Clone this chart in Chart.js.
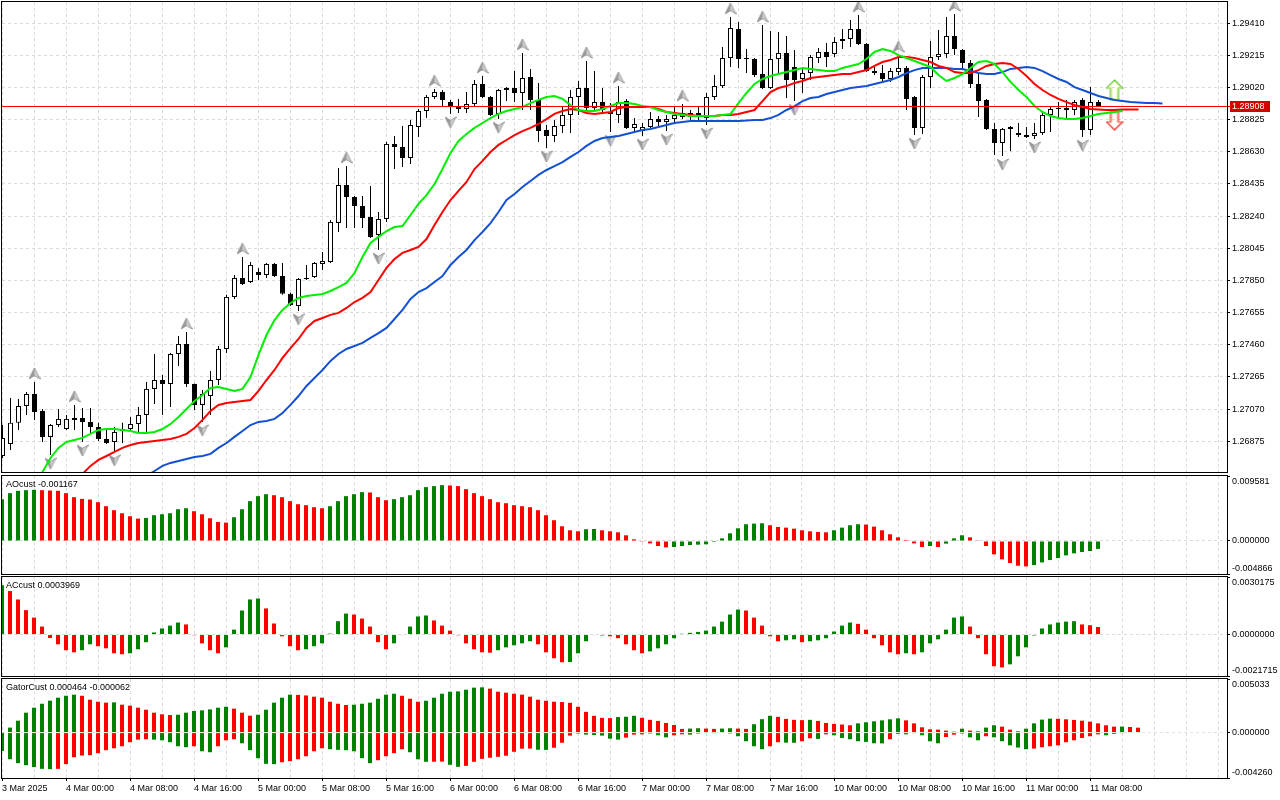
<!DOCTYPE html>
<html>
<head>
<meta charset="utf-8">
<title>H1 chart with Alligator, AO, AC, Gator</title>
<script src="https://cdn.jsdelivr.net/npm/chart.js@4.4.1/dist/chart.umd.min.js"></script>
<style>
    html, body { margin: 0; padding: 0; background: #ffffff; }
    #chartWrap { position: relative; width: 1280px; height: 800px; overflow: hidden; background: #ffffff; }
    .pane { position: absolute; left: 0; width: 1280px; }
</style>
</head>
<body>
<div id="chartWrap">
    <div class="pane" style="top:0;height:474px"><canvas id="mainChart" width="1280" height="474"></canvas></div>
    <div class="pane" style="top:475px;height:100px"><canvas id="aoChart" width="1280" height="100"></canvas></div>
    <div class="pane" style="top:576px;height:101px"><canvas id="acChart" width="1280" height="101"></canvas></div>
    <div class="pane" style="top:678px;height:122px"><canvas id="gatorChart" width="1280" height="122"></canvas></div>
</div>
<script>
// time axis: one label every 8 hourly bars, grid every 4 bars
const xLabels = ['3 Mar 2025', '4 Mar 00:00', '4 Mar 08:00', '4 Mar 16:00', '5 Mar 00:00', '5 Mar 08:00',
    '5 Mar 16:00', '6 Mar 00:00', '6 Mar 08:00', '6 Mar 16:00', '7 Mar 00:00', '7 Mar 08:00', '7 Mar 16:00',
    '10 Mar 00:00', '10 Mar 08:00', '10 Mar 16:00', '11 Mar 00:00', '11 Mar 08:00'];
const labelStep = 8;
const gridStep = 4;

const mainTicks = [1.26875, 1.27070, 1.27265, 1.27460, 1.27655, 1.27850, 1.28045, 1.28240,
    1.28435, 1.28630, 1.28825, 1.29020, 1.29215, 1.29410];
const priceMin = 1.26688;
const priceMax = 1.29539;
const lastPrice = 1.28908;

const opens = [
    1.26785, 1.26858, 1.26986, 1.27089, 1.27161, 1.27058, 1.26901, 1.26973, 1.26949, 1.27016,
    1.27016, 1.26992, 1.26961, 1.26888, 1.26870, 1.26937, 1.26949, 1.26979, 1.27034, 1.27192,
    1.27246, 1.27222, 1.27404, 1.27465, 1.27222, 1.27095, 1.27149, 1.27246, 1.27434, 1.27750,
    1.27865, 1.27841, 1.27901, 1.27883, 1.27950, 1.27877, 1.27769, 1.27695, 1.27859, 1.27871,
    1.27950, 1.27962, 1.28199, 1.28429, 1.28356, 1.28302, 1.28235, 1.28126, 1.28223, 1.28678,
    1.28659, 1.28593, 1.28781, 1.28878, 1.28963, 1.28993, 1.28932, 1.28902, 1.28890, 1.28920,
    1.29042, 1.28963, 1.28860, 1.29005, 1.29017, 1.28987, 1.29084, 1.28945, 1.28763, 1.28726,
    1.28787, 1.28854, 1.28963, 1.29017, 1.28896, 1.28932, 1.28872, 1.28854, 1.28938, 1.28775,
    1.28756, 1.28781, 1.28829, 1.28811, 1.28829, 1.28841, 1.28866, 1.28854, 1.28835, 1.28963,
    1.29029, 1.29199, 1.29375, 1.29199, 1.29193, 1.29102, 1.29017, 1.29193, 1.29230, 1.29145,
    1.29072, 1.29108, 1.29199, 1.29236, 1.29224, 1.29315, 1.29315, 1.29375, 1.29284, 1.29120,
    1.29108, 1.29072, 1.29114, 1.29139, 1.28963, 1.28775, 1.29084, 1.29205, 1.29224, 1.29333,
    1.29248, 1.29169, 1.29042, 1.28945, 1.28769, 1.28684, 1.28769, 1.28732, 1.28732, 1.28726,
    1.28744, 1.28854, 1.28890, 1.28884, 1.28884, 1.28945, 1.28763, 1.28932
];
const highs = [
    1.26973, 1.27137, 1.27131, 1.27174, 1.27234, 1.27070, 1.26979, 1.27070, 1.27034, 1.27095,
    1.27076, 1.27076, 1.26986, 1.26943, 1.26961, 1.26986, 1.27022, 1.27083, 1.27234, 1.27404,
    1.27277, 1.27410, 1.27513, 1.27537, 1.27225, 1.27186, 1.27301, 1.27453, 1.27763, 1.27883,
    1.27992, 1.27962, 1.27926, 1.27956, 1.27956, 1.27956, 1.27775, 1.27865, 1.27944, 1.27962,
    1.28023, 1.28217, 1.28532, 1.28544, 1.28362, 1.28362, 1.28423, 1.28265, 1.28690, 1.28726,
    1.28787, 1.28823, 1.28890, 1.28975, 1.29011, 1.29005, 1.28945, 1.28951, 1.28993, 1.29066,
    1.29090, 1.28969, 1.29011, 1.29023, 1.29120, 1.29230, 1.29133, 1.29048, 1.28793, 1.28823,
    1.28902, 1.29005, 1.29060, 1.29181, 1.29120, 1.29017, 1.28926, 1.29029, 1.28951, 1.28835,
    1.28805, 1.28872, 1.28847, 1.28854, 1.28908, 1.28920, 1.28884, 1.28902, 1.28987, 1.29096,
    1.29266, 1.29448, 1.29418, 1.29254, 1.29199, 1.29399, 1.29363, 1.29357, 1.29333, 1.29248,
    1.29145, 1.29217, 1.29260, 1.29290, 1.29327, 1.29375, 1.29430, 1.29460, 1.29290, 1.29157,
    1.29157, 1.29139, 1.29217, 1.29151, 1.28969, 1.29096, 1.29302, 1.29369, 1.29448, 1.29466,
    1.29254, 1.29187, 1.29108, 1.28951, 1.28805, 1.28775, 1.28787, 1.28805, 1.28781, 1.28805,
    1.28872, 1.28902, 1.28932, 1.28945, 1.28945, 1.28957, 1.29023, 1.28945
];
const lows = [
    1.26773, 1.26822, 1.26943, 1.27034, 1.27004, 1.26870, 1.26791, 1.26961, 1.26943, 1.26943,
    1.26870, 1.26925, 1.26876, 1.26858, 1.26810, 1.26864, 1.26931, 1.26931, 1.26931, 1.27101,
    1.27034, 1.27083, 1.27331, 1.27204, 1.27064, 1.26992, 1.27034, 1.27216, 1.27410, 1.27738,
    1.27823, 1.27835, 1.27853, 1.27865, 1.27871, 1.27763, 1.27695, 1.27665, 1.27853, 1.27865,
    1.27913, 1.27956, 1.28144, 1.28168, 1.28168, 1.28168, 1.28108, 1.28035, 1.28205, 1.28526,
    1.28538, 1.28556, 1.28720, 1.28835, 1.28951, 1.28902, 1.28860, 1.28866, 1.28866, 1.28902,
    1.28957, 1.28847, 1.28829, 1.28938, 1.28932, 1.28884, 1.28884, 1.28690, 1.28653, 1.28690,
    1.28744, 1.28744, 1.28854, 1.28884, 1.28872, 1.28866, 1.28750, 1.28805, 1.28769, 1.28744,
    1.28726, 1.28775, 1.28787, 1.28756, 1.28805, 1.28829, 1.28823, 1.28823, 1.28793, 1.28945,
    1.29017, 1.29145, 1.29139, 1.29108, 1.29084, 1.29011, 1.29011, 1.29096, 1.28957, 1.28938,
    1.28987, 1.29066, 1.29169, 1.29145, 1.29205, 1.29254, 1.29266, 1.29278, 1.29114, 1.29096,
    1.29054, 1.29054, 1.29096, 1.28884, 1.28732, 1.28738, 1.29017, 1.29187, 1.29199, 1.29217,
    1.29126, 1.29017, 1.28841, 1.28763, 1.28611, 1.28605, 1.28635, 1.28720, 1.28714, 1.28708,
    1.28732, 1.28750, 1.28835, 1.28835, 1.28854, 1.28720, 1.28732, 1.28902
];
const closes = [
    1.26895, 1.26986, 1.27089, 1.27161, 1.27052, 1.26901, 1.26973, 1.27010, 1.27010, 1.27004,
    1.26992, 1.26961, 1.26888, 1.26864, 1.26931, 1.26949, 1.26979, 1.27034, 1.27192, 1.27246,
    1.27222, 1.27404, 1.27465, 1.27222, 1.27095, 1.27161, 1.27246, 1.27434, 1.27750, 1.27865,
    1.27829, 1.27944, 1.27883, 1.27950, 1.27877, 1.27769, 1.27701, 1.27859, 1.27865, 1.27956,
    1.27968, 1.28205, 1.28429, 1.28356, 1.28302, 1.28229, 1.28114, 1.28223, 1.28678, 1.28659,
    1.28593, 1.28793, 1.28878, 1.28963, 1.28993, 1.28945, 1.28908, 1.28890, 1.28920, 1.29042,
    1.28963, 1.28854, 1.29005, 1.29017, 1.28987, 1.29078, 1.28945, 1.28756, 1.28726, 1.28787,
    1.28854, 1.28963, 1.29017, 1.28896, 1.28932, 1.28884, 1.28860, 1.28932, 1.28775, 1.28799,
    1.28781, 1.28829, 1.28811, 1.28829, 1.28854, 1.28866, 1.28841, 1.28866, 1.28963, 1.29029,
    1.29199, 1.29381, 1.29193, 1.29193, 1.29096, 1.29017, 1.29193, 1.29230, 1.29066, 1.29066,
    1.29108, 1.29205, 1.29236, 1.29205, 1.29296, 1.29302, 1.29375, 1.29284, 1.29120, 1.29108,
    1.29072, 1.29120, 1.29139, 1.28951, 1.28775, 1.29084, 1.29205, 1.29224, 1.29333, 1.29254,
    1.29169, 1.29042, 1.28938, 1.28769, 1.28684, 1.28769, 1.28781, 1.28744, 1.28720, 1.28744,
    1.28854, 1.28890, 1.28896, 1.28896, 1.28932, 1.28763, 1.28932, 1.28908
];

// Alligator lines (already shifted forward, so they run past the last bar)
const jawLine = [
    null, null, null, null, null, null, null, null, null, null,
    null, null, null, null, null, null, null, null, 1.26664, 1.26694,
    1.26725, 1.26743, 1.26755, 1.26767, 1.26779, 1.26785, 1.26798, 1.26834, 1.26864, 1.26901,
    1.26937, 1.26973, 1.26992, 1.26998, 1.27010, 1.27046, 1.27095, 1.27149, 1.27210, 1.27258,
    1.27307, 1.27362, 1.27404, 1.27434, 1.27452, 1.27471, 1.27501, 1.27531, 1.27562, 1.27616,
    1.27671, 1.27738, 1.27780, 1.27804, 1.27841, 1.27877, 1.27944, 1.27992, 1.28035, 1.28095,
    1.28144, 1.28198, 1.28265, 1.28338, 1.28374, 1.28417, 1.28453, 1.28490, 1.28520, 1.28544,
    1.28568, 1.28599, 1.28629, 1.28666, 1.28696, 1.28714, 1.28720, 1.28726, 1.28738, 1.28750,
    1.28763, 1.28769, 1.28781, 1.28793, 1.28805, 1.28811, 1.28817, 1.28817, 1.28817, 1.28817,
    1.28817, 1.28817, 1.28817, 1.28820, 1.28823, 1.28823, 1.28835, 1.28854, 1.28884, 1.28908,
    1.28938, 1.28957, 1.28963, 1.28981, 1.28993, 1.29005, 1.29017, 1.29023, 1.29029, 1.29042,
    1.29054, 1.29066, 1.29084, 1.29108, 1.29126, 1.29139, 1.29139, 1.29139, 1.29139, 1.29133,
    1.29133, 1.29120, 1.29108, 1.29102, 1.29102, 1.29114, 1.29133, 1.29139, 1.29145, 1.29139,
    1.29120, 1.29096, 1.29072, 1.29054, 1.29023, 1.29005, 1.28987, 1.28969, 1.28957, 1.28945,
    1.28938, 1.28932, 1.28929, 1.28926, 1.28926, 1.28923
];
const teethLine = [
    null, null, null, null, null, null, null, null, null, null,
    1.26676, 1.26725, 1.26761, 1.26785, 1.26810, 1.26834, 1.26852, 1.26864, 1.26870, 1.26876,
    1.26882, 1.26888, 1.26901, 1.26919, 1.26955, 1.27004, 1.27058, 1.27095, 1.27107, 1.27113,
    1.27119, 1.27125, 1.27180, 1.27246, 1.27307, 1.27380, 1.27440, 1.27495, 1.27562, 1.27604,
    1.27622, 1.27641, 1.27653, 1.27683, 1.27719, 1.27744, 1.27780, 1.27853, 1.27926, 1.27980,
    1.28017, 1.28035, 1.28053, 1.28101, 1.28186, 1.28265, 1.28338, 1.28393, 1.28447, 1.28526,
    1.28575, 1.28629, 1.28672, 1.28702, 1.28732, 1.28756, 1.28775, 1.28799, 1.28829, 1.28860,
    1.28878, 1.28890, 1.28884, 1.28866, 1.28860, 1.28866, 1.28872, 1.28896, 1.28902, 1.28902,
    1.28902, 1.28902, 1.28890, 1.28872, 1.28866, 1.28860, 1.28854, 1.28847, 1.28847, 1.28847,
    1.28854, 1.28854, 1.28860, 1.28872, 1.28884, 1.28938, 1.28993, 1.29017, 1.29029, 1.29048,
    1.29060, 1.29078, 1.29084, 1.29090, 1.29096, 1.29102, 1.29102, 1.29114, 1.29126, 1.29151,
    1.29175, 1.29187, 1.29205, 1.29205, 1.29199, 1.29187, 1.29175, 1.29151, 1.29139, 1.29114,
    1.29108, 1.29108, 1.29126, 1.29151, 1.29163, 1.29169, 1.29163, 1.29133, 1.29090, 1.29042,
    1.29005, 1.28975, 1.28951, 1.28932, 1.28914, 1.28902, 1.28890, 1.28887, 1.28884, 1.28884,
    1.28887, 1.28887, 1.28887
];
const lipsLine = [
    null, null, null, null, 1.26640, 1.26688, 1.26773, 1.26834, 1.26870, 1.26882,
    1.26895, 1.26919, 1.26943, 1.26949, 1.26949, 1.26943, 1.26937, 1.26925, 1.26925, 1.26931,
    1.26949, 1.26979, 1.27022, 1.27070, 1.27119, 1.27155, 1.27198, 1.27204, 1.27192, 1.27180,
    1.27192, 1.27264, 1.27398, 1.27519, 1.27610, 1.27671, 1.27713, 1.27744, 1.27756, 1.27762,
    1.27768, 1.27786, 1.27810, 1.27835, 1.27895, 1.27992, 1.28077, 1.28114, 1.28150, 1.28174,
    1.28180, 1.28247, 1.28314, 1.28368, 1.28435, 1.28526, 1.28623, 1.28696, 1.28738, 1.28775,
    1.28805, 1.28835, 1.28860, 1.28878, 1.28890, 1.28902, 1.28926, 1.28945, 1.28963, 1.28969,
    1.28951, 1.28914, 1.28884, 1.28878, 1.28878, 1.28890, 1.28908, 1.28926, 1.28926, 1.28920,
    1.28908, 1.28902, 1.28884, 1.28872, 1.28860, 1.28854, 1.28847, 1.28847, 1.28847, 1.28847,
    1.28854, 1.28860, 1.28926, 1.28987, 1.29042, 1.29072, 1.29090, 1.29102, 1.29114, 1.29126,
    1.29139, 1.29133, 1.29126, 1.29120, 1.29120, 1.29139, 1.29151, 1.29163, 1.29193, 1.29236,
    1.29254, 1.29242, 1.29217, 1.29199, 1.29181, 1.29163, 1.29145, 1.29096, 1.29060, 1.29078,
    1.29102, 1.29139, 1.29175, 1.29181, 1.29163, 1.29114, 1.29054, 1.29005, 1.28963, 1.28908,
    1.28872, 1.28847, 1.28835, 1.28829, 1.28829, 1.28835, 1.28847, 1.28860, 1.28866, 1.28872,
    1.28878
];

const upFractalBars = [4, 9, 23, 30, 43, 54, 60, 65, 73, 77, 85, 91, 95, 107, 112, 119];
const downFractalBars = [6, 10, 14, 25, 37, 47, 56, 62, 68, 76, 80, 83, 88, 99, 114, 125, 129, 135];
const signalBars = [139];
const signalUpPrices = [1.29005];
const signalDownPrices = [1.28823];

const aoValues = [
    0.00616, 0.00705, 0.00740, 0.00749, 0.00754, 0.00749, 0.00744, 0.00740, 0.00705, 0.00646,
    0.00621, 0.00611, 0.00572, 0.00513, 0.00454, 0.00409, 0.00365, 0.00330, 0.00340, 0.00380,
    0.00394, 0.00409, 0.00468, 0.00483, 0.00439, 0.00394, 0.00335, 0.00281, 0.00271, 0.00350,
    0.00468, 0.00587, 0.00661, 0.00690, 0.00675, 0.00646, 0.00587, 0.00542, 0.00528, 0.00498,
    0.00483, 0.00513, 0.00587, 0.00661, 0.00690, 0.00720, 0.00715, 0.00646, 0.00601, 0.00616,
    0.00646, 0.00675, 0.00749, 0.00794, 0.00809, 0.00823, 0.00818, 0.00809, 0.00764, 0.00705,
    0.00661, 0.00616, 0.00572, 0.00557, 0.00528, 0.00513, 0.00498, 0.00454, 0.00380, 0.00306,
    0.00217, 0.00158, 0.00143, 0.00173, 0.00177, 0.00158, 0.00143, 0.00128, 0.00084, 0.00025,
    -0.00003, -0.00035, -0.00074, -0.00094, -0.00089, -0.00074, -0.00059, -0.00054, -0.00049, -0.00015,
    0.00039, 0.00113, 0.00187, 0.00247, 0.00256, 0.00261, 0.00232, 0.00207, 0.00197, 0.00182,
    0.00158, 0.00143, 0.00133, 0.00128, 0.00158, 0.00197, 0.00232, 0.00247, 0.00242, 0.00212,
    0.00158, 0.00099, 0.00054, 0.00015, -0.00035, -0.00089, -0.00074, -0.00089, -0.00039, 0.00039,
    0.00084, 0.00054, 0.00010, -0.00074, -0.00197, -0.00271, -0.00325, -0.00365, -0.00375, -0.00355,
    -0.00316, -0.00281, -0.00251, -0.00212, -0.00182, -0.00163, -0.00148, -0.001167
];
const acValues = [
    0.00259, 0.00228, 0.00184, 0.00128, 0.00089, 0.00042, -0.00018, -0.00051, -0.00082, -0.00093,
    -0.00082, -0.00051, -0.00061, -0.00072, -0.00098, -0.00103, -0.00098, -0.00077, -0.00040, 0.00011,
    0.00032, 0.00047, 0.00063, 0.00053, -0.00004, -0.00046, -0.00082, -0.00098, -0.00067, 0.00026,
    0.00126, 0.00184, 0.00189, 0.00137, 0.00058, -0.00009, -0.00061, -0.00082, -0.00077, -0.00061,
    -0.00046, 0.00005, 0.00070, 0.00110, 0.00105, 0.00084, 0.00042, -0.00040, -0.00077, -0.00046,
    -0.00003, 0.00042, 0.00095, 0.00100, 0.00074, 0.00047, 0.00021, -0.00004, -0.00046, -0.00077,
    -0.00093, -0.00095, -0.00082, -0.00067, -0.00056, -0.00046, -0.00035, -0.00051, -0.00093, -0.00124,
    -0.00145, -0.00144, -0.00098, -0.00035, -0.00003, -0.00005, -0.00009, -0.00019, -0.00051, -0.00082,
    -0.00098, -0.00088, -0.00072, -0.00051, -0.00019, 0.00004, 0.00009, 0.00014, 0.00021, 0.00042,
    0.00068, 0.00105, 0.00131, 0.00126, 0.00089, 0.00047, -0.00009, -0.00035, -0.00030, -0.00025,
    -0.00040, -0.00035, -0.00030, -0.00019, 0.00016, 0.00047, 0.00063, 0.00056, 0.00026, -0.00019,
    -0.00056, -0.00093, -0.00103, -0.00098, -0.00103, -0.00093, -0.00046, -0.00025, 0.00026, 0.00089,
    0.00095, 0.00042, -0.00019, -0.00103, -0.00166, -0.00172, -0.00156, -0.00114, -0.00067, -0.00005,
    0.00032, 0.00053, 0.00063, 0.00068, 0.00070, 0.00053, 0.00049, 0.0003969
];
const gatorUpper = [
    null, 0.00047, 0.00112, 0.00187, 0.00234, 0.00271, 0.00300, 0.00328, 0.00346, 0.00356,
    0.00346, 0.00309, 0.00290, 0.00281, 0.00284, 0.00262, 0.00253, 0.00234, 0.00215, 0.00187,
    0.00172, 0.00165, 0.00168, 0.00187, 0.00203, 0.00209, 0.00218, 0.00234, 0.00243, 0.00225,
    0.00187, 0.00159, 0.00168, 0.00215, 0.00281, 0.00328, 0.00356, 0.00354, 0.00349, 0.00337,
    0.00328, 0.00290, 0.00271, 0.00259, 0.00262, 0.00271, 0.00281, 0.00318, 0.00356, 0.00365,
    0.00346, 0.00318, 0.00290, 0.00299, 0.00328, 0.00365, 0.00384, 0.00387, 0.00403, 0.00422,
    0.00425, 0.00413, 0.00384, 0.00375, 0.00365, 0.00356, 0.00337, 0.00309, 0.00299, 0.00290,
    0.00287, 0.00280, 0.00243, 0.00195, 0.00158, 0.00139, 0.00136, 0.00146, 0.00149, 0.00158,
    0.00139, 0.00120, 0.00110, 0.00091, 0.00072, 0.00035, 0.00038, 0.00041, 0.00038, 0.00035,
    0.00038, 0.00041, 0.00038, 0.00035, 0.00079, 0.00126, 0.00158, 0.00148, 0.00129, 0.00120,
    0.00117, 0.00120, 0.00110, 0.00091, 0.00082, 0.00076, 0.00069, 0.00087, 0.00097, 0.00106,
    0.00115, 0.00125, 0.00134, 0.00115, 0.00087, 0.00050, 0.00031, 0.00028, 0.00019, 0.00009,
    0.00037, 0.00019, 0.00012, 0.00047, 0.00069, 0.00056, 0.00028, 0.00012, 0.00037, 0.00087,
    0.00122, 0.00131, 0.00130, 0.00125, 0.00119, 0.00112, 0.00103, 0.00087, 0.00069, 0.00056,
    0.00057, 0.00053, 0.000464
];
const gatorLower = [
    -0.00172, -0.00250, -0.00287, -0.00306, -0.00324, -0.00340, -0.00343, -0.00340, -0.00296, -0.00231,
    -0.00215, -0.00212, -0.00193, -0.00165, -0.00147, -0.00128, -0.00090, -0.00066, -0.00062, -0.00066,
    -0.00072, -0.00090, -0.00128, -0.00137, -0.00128, -0.00175, -0.00184, -0.00128, -0.00072, -0.00062,
    -0.00100, -0.00165, -0.00240, -0.00293, -0.00296, -0.00278, -0.00268, -0.00250, -0.00222, -0.00175,
    -0.00147, -0.00156, -0.00162, -0.00165, -0.00175, -0.00240, -0.00287, -0.00259, -0.00222, -0.00193,
    -0.00156, -0.00184, -0.00250, -0.00274, -0.00273, -0.00272, -0.00302, -0.00321, -0.00312, -0.00274,
    -0.00246, -0.00236, -0.00227, -0.00217, -0.00180, -0.00151, -0.00150, -0.00161, -0.00162, -0.00142,
    -0.00095, -0.00028, -0.00009, -0.00019, -0.00022, -0.00028, -0.00057, -0.00066, -0.00047, -0.00019,
    -0.00016, -0.00009, -0.00025, -0.00044, -0.00025, -0.00016, -0.00019, -0.00009, -0.00005, -0.00003,
    -0.00005, -0.00008, -0.00034, -0.00081, -0.00128, -0.00156, -0.00128, -0.00090, -0.00094, -0.00095,
    -0.00081, -0.00053, -0.00059, -0.00016, -0.00025, -0.00050, -0.00062, -0.00081, -0.00087, -0.00100,
    -0.00101, -0.00062, -0.00012, -0.00016, -0.00006, -0.00025, -0.00081, -0.00100, -0.00041, -0.00019,
    -0.00009, -0.00044, -0.00072, -0.00034, -0.00044, -0.00081, -0.00119, -0.00140, -0.00156, -0.00150,
    -0.00137, -0.00128, -0.00119, -0.00090, -0.00072, -0.00050, -0.00034, -0.00016, -0.00025, -0.00012,
    -0.000062
];

const aoRange = [-0.004866, 0.009581];
const acRange = [-0.0021715, 0.0030175];
const gatorRange = [-0.004260, 0.005033];
const aoAxisLabels = ['0.009581', '0.000000', '-0.004866'];
const acAxisLabels = ['0.0030175', '0.0000000', '-0.0021715'];
const gatorAxisLabels = ['0.005033', '0.000000', '-0.004260'];

const FONT_FAMILY = '"Liberation Sans", Arial, sans-serif';
const TEXT_FONT = '9px ' + FONT_FAMILY;
const GRID = '#dadada';
const UP_GREEN = '#008000';
const DOWN_RED = '#ff0000';

function toPoints(values) {
    const points = [];
    values.forEach(function (v, i) {
        if (v !== null) {
            points.push({ x: i, y: v });
        }
    });
    return points;
}

function risingColors(values, absolute) {
    return values.map(function (v, i) {
        if (v === null) return UP_GREEN;
        const prev = i > 0 ? values[i - 1] : null;
        if (prev === null) return UP_GREEN;
        const cur = absolute ? Math.abs(v) : v;
        const before = absolute ? Math.abs(prev) : prev;
        return cur > before ? UP_GREEN : DOWN_RED;
    });
}

// scales report label padding that would shrink the plot; the panes are laid out by hand
function noScalePadding(scale) {
    scale.paddingTop = 0;
    scale.paddingBottom = 0;
    scale.paddingLeft = 0;
    scale.paddingRight = 0;
}

function fractalGlyph(up) {
    const c = document.createElement('canvas');
    c.width = 12;
    c.height = 30;
    const g = c.getContext('2d');
    if (!up) {
        g.translate(0, 30);
        g.scale(1, -1);
    }
    const shape = function () {
        g.beginPath();
        g.moveTo(6, 1);
        g.lineTo(11.5, 12);
        g.lineTo(6, 8.5);
        g.lineTo(0.5, 12);
        g.closePath();
    };
    shape();
    g.fillStyle = '#d0d0d0';
    g.fill();
    g.beginPath();
    g.moveTo(6, 1);
    g.lineTo(6, 8.5);
    g.lineTo(0.5, 12);
    g.closePath();
    g.fillStyle = '#9c9c9c';
    g.fill();
    shape();
    g.strokeStyle = '#868686';
    g.lineWidth = 0.8;
    g.stroke();
    return c;
}

function signalArrow(up) {
    const c = document.createElement('canvas');
    c.width = 18;
    c.height = 22;
    const g = c.getContext('2d');
    if (!up) {
        g.translate(0, 22);
        g.scale(1, -1);
    }
    const outline = function (inset) {
        g.beginPath();
        g.moveTo(9, 1 + inset);
        g.lineTo(17 - inset, 9);
        g.lineTo(13 - inset, 9);
        g.lineTo(13 - inset, 21 - inset);
        g.lineTo(5 + inset, 21 - inset);
        g.lineTo(5 + inset, 9);
        g.lineTo(1 + inset, 9);
        g.closePath();
    };
    outline(0);
    g.lineWidth = 1.2;
    g.strokeStyle = up ? '#4cc22e' : '#f02828';
    g.stroke();
    outline(1.2);
    g.lineWidth = 1;
    g.strokeStyle = up ? '#d8f07a' : '#ff9a8a';
    g.stroke();
    return c;
}

function xAxis(xMin, showLabels) {
    return {
        type: 'linear',
        min: xMin,
        max: xMin + 153.125,
        offset: false,
        afterBuildTicks: function (scale) {
            const ticks = [];
            for (let v = 0; v <= 152; v += gridStep) {
                ticks.push({ value: v });
            }
            scale.ticks = ticks;
        },
        afterFit: function (scale) {
            scale.height = showLabels ? 22 : 0;
            noScalePadding(scale);
        },
        ticks: {
            display: showLabels,
            autoSkip: false,
            maxRotation: 0,
            minRotation: 0,
            align: 'start',
            padding: 2,
            color: '#000000',
            font: { size: 9 },
            callback: function (value) {
                if (value % labelStep !== 0) return '';
                return xLabels[value / labelStep] || '';
            }
        },
        grid: {
            offset: false,
            color: GRID,
            drawTicks: showLabels,
            tickLength: 3,
            tickColor: function (ctx) {
                return ctx.tick && ctx.tick.label ? '#000000' : 'rgba(0,0,0,0)';
            }
        },
        border: { display: false, dash: [3, 3] }
    };
}

function paneAxis(range, zeroOnTop) {
    return {
        type: 'linear',
        position: 'right',
        min: range[0],
        max: range[1],
        afterBuildTicks: function (scale) {
            scale.ticks = [{ value: range[0] }, { value: 0 }, { value: range[1] }];
        },
        afterFit: function (scale) {
            scale.width = 53;
            noScalePadding(scale);
        },
        ticks: { display: false },
        grid: {
            color: function (ctx) {
                return ctx.tick && ctx.tick.value === 0 ? (zeroOnTop ? '#e2e2e2' : GRID) : 'rgba(0,0,0,0)';
            },
            tickColor: '#000000',
            tickLength: 3,
            z: zeroOnTop ? 1 : 0
        },
        border: { display: false, dash: [3, 3] }
    };
}

// frame, pane title and inset axis labels of every pane
const paneFrame = {
    id: 'paneFrame',
    afterDraw: function (chart, args, opts) {
        const a = chart.chartArea;
        const ctx = chart.ctx;
        ctx.save();
        ctx.strokeStyle = '#000000';
        ctx.lineWidth = 1;
        ctx.strokeRect(a.left - 0.5, a.top - 0.5, a.right - a.left + 1, a.bottom - a.top + 1);
        ctx.font = TEXT_FONT;
        ctx.fillStyle = '#000000';
        ctx.textAlign = 'left';
        ctx.textBaseline = 'middle';
        if (opts.title) {
            ctx.fillText(opts.title, 6, a.top + 9);
        }
        if (opts.axisLabels) {
            const y = chart.scales.y;
            const lx = a.right + 5;
            ctx.fillText(opts.axisLabels[0], lx, a.top + 5.5);
            ctx.fillText(opts.axisLabels[1], lx, y.getPixelForValue(0));
            ctx.fillText(opts.axisLabels[2], lx, a.bottom - 5);
        }
        ctx.restore();
    }
};

const lastPriceMarker = {
    id: 'lastPriceMarker',
    afterDatasetsDraw: function (chart, args, opts) {
        const a = chart.chartArea;
        const ctx = chart.ctx;
        const y = Math.round(chart.scales.y.getPixelForValue(opts.price)) + 0.5;
        ctx.save();
        ctx.strokeStyle = '#ff0000';
        ctx.lineWidth = 1;
        ctx.beginPath();
        ctx.moveTo(a.left, y);
        ctx.lineTo(a.right + 3, y);
        ctx.stroke();
        ctx.restore();
    },
    afterDraw: function (chart, args, opts) {
        const a = chart.chartArea;
        const ctx = chart.ctx;
        const y = Math.round(chart.scales.y.getPixelForValue(opts.price));
        ctx.save();
        ctx.fillStyle = '#d40000';
        ctx.fillRect(a.right + 3, y - 5, 40, 11);
        ctx.fillStyle = '#ffffff';
        ctx.font = TEXT_FONT;
        ctx.textAlign = 'left';
        ctx.textBaseline = 'middle';
        ctx.fillText(opts.price.toFixed(5), a.right + 5, y + 0.5);
        ctx.restore();
    }
};

function paneOptions(padding, xScale, yScale, frame) {
    return {
        responsive: false,
        animation: false,
        events: [],
        layout: { padding: padding, autoPadding: false },
        plugins: {
            legend: { display: false },
            tooltip: { enabled: false },
            paneFrame: frame
        },
        scales: { x: xScale, y: yScale }
    };
}

document.addEventListener('DOMContentLoaded', function () {
    Chart.defaults.font.family = FONT_FAMILY;
    Chart.defaults.font.size = 9;
    Chart.defaults.color = '#000000';

    const upGlyph = fractalGlyph(true);
    const downGlyph = fractalGlyph(false);

    const lineStyle = { type: 'line', borderWidth: 2, pointRadius: 0, tension: 0, fill: false };
    const markerStyle = { type: 'line', showLine: false, pointRadius: 5, pointBorderWidth: 0, order: 3 };

    const mainOptions = paneOptions({ left: 2, top: 2, bottom: 2, right: 0 }, xAxis(-0.0625, false), {
        type: 'linear',
        position: 'right',
        min: priceMin,
        max: priceMax,
        afterBuildTicks: function (scale) {
            scale.ticks = mainTicks.map(function (v) { return { value: v }; });
        },
        afterFit: function (scale) {
            scale.width = 53;
            noScalePadding(scale);
        },
        ticks: {
            padding: 2,
            autoSkip: false,
            color: '#000000',
            font: { size: 9 },
            callback: function (value) {
                return Number(value).toFixed(5);
            }
        },
        grid: { color: GRID, tickColor: '#000000', tickLength: 3 },
        border: { display: false, dash: [3, 3] }
    }, {});
    mainOptions.plugins.lastPriceMarker = { price: lastPrice };

    new Chart(document.getElementById('mainChart'), {
        type: 'bar',
        data: {
            datasets: [
                Object.assign({ label: 'Lips', data: toPoints(lipsLine), borderColor: '#00ee00', order: 0 }, lineStyle),
                Object.assign({ label: 'Teeth', data: toPoints(teethLine), borderColor: '#ff0000', order: 1 }, lineStyle),
                Object.assign({ label: 'Jaw', data: toPoints(jawLine), borderColor: '#1450d2', order: 2 }, lineStyle),
                Object.assign({
                    label: 'Fractals up',
                    data: upFractalBars.map(function (i) { return { x: i, y: highs[i] }; }),
                    pointStyle: upGlyph
                }, markerStyle),
                Object.assign({
                    label: 'Fractals down',
                    data: downFractalBars.map(function (i) { return { x: i, y: lows[i] }; }),
                    pointStyle: downGlyph
                }, markerStyle),
                Object.assign({
                    label: 'Signal up',
                    data: signalBars.map(function (b, k) { return { x: b, y: signalUpPrices[k] }; }),
                    pointStyle: signalArrow(true)
                }, markerStyle),
                Object.assign({
                    label: 'Signal down',
                    data: signalBars.map(function (b, k) { return { x: b, y: signalDownPrices[k] }; }),
                    pointStyle: signalArrow(false)
                }, markerStyle),
                {
                    type: 'bar',
                    label: 'Bodies',
                    data: opens.map(function (o, i) { return { x: i, y: [o, closes[i]] }; }),
                    backgroundColor: opens.map(function (o, i) { return closes[i] >= o ? '#ffffff' : '#000000'; }),
                    borderColor: '#000000',
                    borderWidth: 1,
                    borderSkipped: false,
                    minBarLength: 1,
                    maxBarThickness: 5,
                    grouped: false,
                    inflateAmount: 0,
                    order: 4
                },
                {
                    type: 'bar',
                    label: 'Wicks',
                    data: lows.map(function (l, i) { return { x: i, y: [l, highs[i]] }; }),
                    backgroundColor: '#000000',
                    borderWidth: 0,
                    maxBarThickness: 1,
                    grouped: false,
                    inflateAmount: 0,
                    order: 5
                }
            ]
        },
        options: mainOptions,
        plugins: [paneFrame, lastPriceMarker]
    });

    new Chart(document.getElementById('aoChart'), {
        type: 'bar',
        data: {
            datasets: [{
                label: 'AO',
                data: aoValues.map(function (v, i) { return { x: i, y: v }; }),
                backgroundColor: risingColors(aoValues, false),
                borderWidth: 0,
                maxBarThickness: 4,
                grouped: false,
                inflateAmount: 0
            }]
        },
        options: paneOptions({ left: 2, top: 1, bottom: 1, right: 0 }, xAxis(0, false), paneAxis(aoRange, false),
            { title: 'AOcust -0.001167', axisLabels: aoAxisLabels }),
        plugins: [paneFrame]
    });

    new Chart(document.getElementById('acChart'), {
        type: 'bar',
        data: {
            datasets: [{
                label: 'AC',
                data: acValues.map(function (v, i) { return { x: i, y: v }; }),
                backgroundColor: risingColors(acValues, false),
                borderWidth: 0,
                maxBarThickness: 4,
                grouped: false,
                inflateAmount: 0
            }]
        },
        options: paneOptions({ left: 2, top: 1, bottom: 1, right: 0 }, xAxis(0, false), paneAxis(acRange, false),
            { title: 'ACcust 0.0003969', axisLabels: acAxisLabels }),
        plugins: [paneFrame]
    });

    new Chart(document.getElementById('gatorChart'), {
        type: 'bar',
        data: {
            datasets: [
                {
                    label: 'Gator upper',
                    data: toPoints(gatorUpper),
                    backgroundColor: risingColors(gatorUpper, true).filter(function (c, i) { return gatorUpper[i] !== null; }),
                    borderWidth: 0,
                    maxBarThickness: 4,
                    grouped: false,
                    inflateAmount: 0
                },
                {
                    label: 'Gator lower',
                    data: toPoints(gatorLower),
                    backgroundColor: risingColors(gatorLower, true),
                    borderWidth: 0,
                    maxBarThickness: 4,
                    grouped: false,
                    inflateAmount: 0
                }
            ]
        },
        options: paneOptions({ left: 2, top: 1, bottom: 0, right: 0 }, xAxis(0, true), paneAxis(gatorRange, true),
            { title: 'GatorCust 0.000464 -0.000062', axisLabels: gatorAxisLabels }),
        plugins: [paneFrame]
    });
});
</script>
</body>
</html>
